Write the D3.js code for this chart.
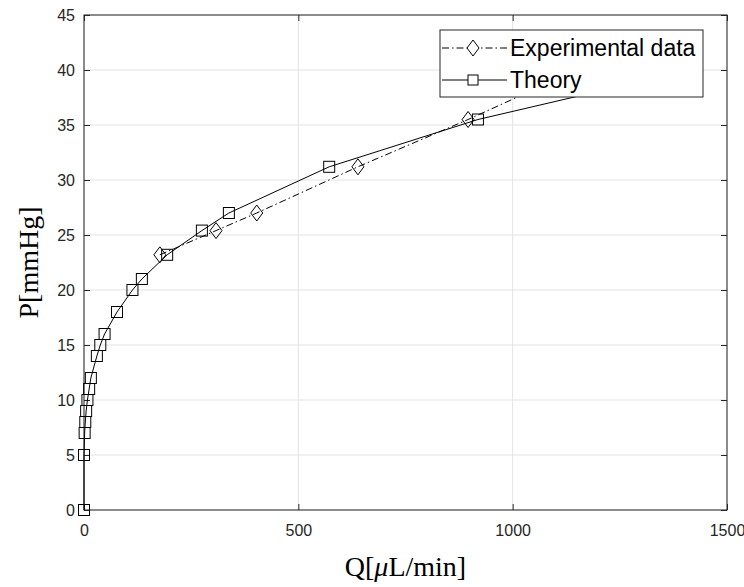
<!DOCTYPE html>
<html>
<head>
<meta charset="utf-8">
<script src="https://cdn.jsdelivr.net/npm/d3@7"></script>
<style>
body { margin: 0; background: #fff; }
text { font-family: "Liberation Sans", Arial, sans-serif; }
</style>
</head>
<body>
<script>
// P [mmHg] vs Q [uL/min]
var expQ = [177, 308, 403, 639, 896, 1150];
var expP = [23.2, 25.4, 27.0, 31.2, 35.5, 40.0];

var theoQ = [0, 0, 1.5, 3, 5, 8, 12, 16, 30, 38, 48, 77, 113, 135, 194, 275, 338, 572, 919, 1414];
var theoP = [0, 5, 7, 8, 9, 10, 11, 12, 14, 15, 16, 18, 20, 21, 23.2, 25.4, 27.0, 31.2, 35.5, 40.0];

var xTicks = [0, 500, 1000, 1500];
var yTicks = [0, 5, 10, 15, 20, 25, 30, 35, 40, 45];

var W = 744, H = 587;
var margin = { top: 15, right: 17, bottom: 77, left: 84 },
    width = W - margin.left - margin.right,
    height = H - margin.top - margin.bottom;

var x = d3.scaleLinear().domain([0, 1500]).range([0, width]);
var y = d3.scaleLinear().domain([0, 45]).range([height, 0]);

var svg = d3.select("body").append("svg")
    .attr("width", W)
    .attr("height", H);

var g = svg.append("g")
    .attr("transform", "translate(" + margin.left + "," + margin.top + ")");

// grid
g.selectAll(".gx").data(xTicks).enter().append("line")
    .attr("x1", d => x(d)).attr("x2", d => x(d))
    .attr("y1", 0).attr("y2", height)
    .attr("stroke", "#e3e3e3").attr("stroke-width", 1);
g.selectAll(".gy").data(yTicks).enter().append("line")
    .attr("x1", 0).attr("x2", width)
    .attr("y1", d => y(d)).attr("y2", d => y(d))
    .attr("stroke", "#e3e3e3").attr("stroke-width", 1);

var axisColor = "#262626";
var fmt = d3.format("d");

function styleAxis(sel) {
    sel.select(".domain").remove();
    sel.selectAll(".tick line").attr("stroke", axisColor);
    sel.selectAll(".tick text").attr("fill", axisColor)
        .style("font-size", "16px")
        .style("font-family", "'Liberation Sans', Arial, sans-serif");
}

g.append("g")
    .attr("transform", "translate(0," + height + ")")
    .call(d3.axisBottom(x).tickValues(xTicks).tickSize(-6).tickPadding(15).tickFormat(fmt))
    .call(styleAxis);
g.append("g")
    .call(d3.axisTop(x).tickValues(xTicks).tickSize(-6).tickFormat(""))
    .call(styleAxis);
g.append("g")
    .call(d3.axisLeft(y).tickValues(yTicks).tickSize(-6).tickPadding(9).tickFormat(fmt))
    .call(styleAxis);
g.append("g")
    .attr("transform", "translate(" + width + ",0)")
    .call(d3.axisRight(y).tickValues(yTicks).tickSize(-6).tickFormat(""))
    .call(styleAxis);

g.append("rect")
    .attr("width", width).attr("height", height)
    .attr("fill", "none").attr("stroke", axisColor).attr("stroke-width", 1);

// data
var expData = expQ.map((q, i) => ({ q: q, p: expP[i] }));
var theoData = theoQ.map((q, i) => ({ q: q, p: theoP[i] }));

var line = d3.line().x(d => x(d.q)).y(d => y(d.p));

g.append("path").datum(theoData)
    .attr("d", line).attr("fill", "none")
    .attr("stroke", "#000").attr("stroke-width", 1);

g.append("path").datum(expData)
    .attr("d", line).attr("fill", "none")
    .attr("stroke", "#000").attr("stroke-width", 1)
    .attr("stroke-dasharray", "7,3,1.5,3");

function diamond(cx, cy) {
    var w = 6, h = 8;
    return "M" + cx + "," + (cy - h) + "L" + (cx + w) + "," + cy +
        "L" + cx + "," + (cy + h) + "L" + (cx - w) + "," + cy + "Z";
}

g.selectAll(".sq").data(theoData).enter().append("rect")
    .attr("x", d => x(d.q) - 5.5).attr("y", d => y(d.p) - 5.5)
    .attr("width", 11).attr("height", 11)
    .attr("fill", "none").attr("stroke", "#000").attr("stroke-width", 1);

g.selectAll(".dm").data(expData).enter().append("path")
    .attr("d", d => diamond(x(d.q), y(d.p)))
    .attr("fill", "none").attr("stroke", "#000").attr("stroke-width", 1);

// legend
var lg = svg.append("g").attr("transform", "translate(440,30)");
lg.append("rect").attr("width", 263).attr("height", 67)
    .attr("fill", "#fff").attr("stroke", axisColor).attr("stroke-width", 1);

lg.append("line").attr("x1", 2).attr("x2", 67).attr("y1", 18).attr("y2", 18)
    .attr("stroke", "#000").attr("stroke-dasharray", "7,3,1.5,3");
lg.append("path").attr("d", diamond(33, 18))
    .attr("fill", "#fff").attr("stroke", "#000");
lg.append("text").attr("x", 70).attr("y", 26).text("Experimental data")
    .style("font-size", "23px").attr("fill", "#000");

lg.append("line").attr("x1", 2).attr("x2", 67).attr("y1", 50).attr("y2", 50)
    .attr("stroke", "#000");
lg.append("rect").attr("x", 28).attr("y", 45).attr("width", 10).attr("height", 10)
    .attr("fill", "#fff").attr("stroke", "#000");
lg.append("text").attr("x", 70).attr("y", 58).text("Theory")
    .style("font-size", "23px").attr("fill", "#000");

// axis titles
svg.append("text")
    .attr("x", margin.left + width / 2).attr("y", 576)
    .attr("text-anchor", "middle")
    .style("font-family", "'Liberation Serif', 'DejaVu Serif', serif")
    .style("font-size", "28px")
    .attr("fill", "#000")
    .html("Q[<tspan font-style='italic'>μ</tspan>L/min]");

svg.append("text")
    .attr("transform", "translate(38," + (margin.top + height / 2) + ") rotate(-90)")
    .attr("text-anchor", "middle")
    .style("font-family", "'Liberation Serif', 'DejaVu Serif', serif")
    .style("font-size", "28px")
    .attr("fill", "#000")
    .text("P[mmHg]");
</script>
</body>
</html>
